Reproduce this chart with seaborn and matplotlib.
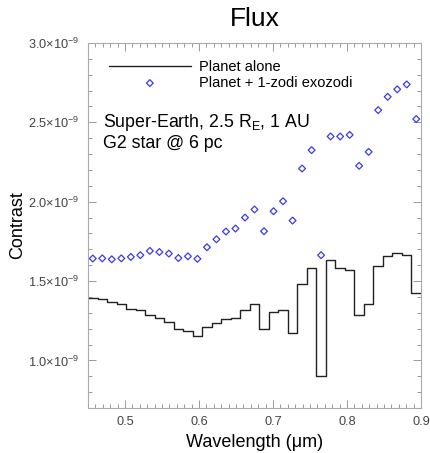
import numpy as np
import pandas as pd
import matplotlib
matplotlib.use("Agg")
import matplotlib.pyplot as plt
import matplotlib.ticker as mticker
import seaborn as sns

# wavelength grid: 35 equal bins between 0.45 and 0.90 um
wl_min, wl_max, n_bins = 0.45, 0.90, 35

# contrast values (units of 1e-9), one per bin
planet_alone = [1.395, 1.385, 1.368, 1.358, 1.322, 1.318, 1.288, 1.267, 1.242, 1.196,
                1.187, 1.156, 1.213, 1.235, 1.263, 1.267, 1.320, 1.353, 1.196, 1.307,
                1.315, 1.175, 1.484, 1.585, 0.901, 1.635, 1.582, 1.568, 1.288, 1.358,
                1.597, 1.658, 1.677, 1.667, 1.427]
planet_exozodi = [1.642, 1.643, 1.637, 1.643, 1.652, 1.663, 1.690, 1.683, 1.673, 1.645,
                  1.656, 1.640, 1.713, 1.763, 1.812, 1.831, 1.900, 1.951, 1.814, 1.940,
                  2.003, 1.881, 2.209, 2.325, 1.663, 2.411, 2.411, 2.421, 2.226, 2.314,
                  2.577, 2.661, 2.708, 2.739, 2.521]

x_ticks = [0.5, 0.6, 0.7, 0.8, 0.9]
y_ticks = [1.0, 1.5, 2.0, 2.5, 3.0]  # units of 1e-9

edges = np.linspace(wl_min, wl_max, n_bins + 1)
centers = 0.5 * (edges[:-1] + edges[1:])

step_df = pd.DataFrame({"wl": edges,
                        "c": np.append(planet_alone, planet_alone[-1]) * 1e-9})
pts_df = pd.DataFrame({"wl": centers, "c": np.array(planet_exozodi) * 1e-9})

sns.set_style("white")
plt.rcParams["font.family"] = ["Liberation Sans", "DejaVu Sans"]
plt.rcParams["mathtext.fontset"] = "custom"
plt.rcParams["mathtext.rm"] = "Liberation Sans"
plt.rcParams["mathtext.it"] = "Liberation Sans:italic"
plt.rcParams["mathtext.bf"] = "Liberation Sans:bold"
plt.rcParams["text.color"] = "black"
plt.rcParams["axes.labelcolor"] = "black"

fig = plt.figure(figsize=(4.31, 4.53), dpi=100)
ax = fig.add_axes([0.2042, 0.0993, 0.7726, 0.8058])

sns.lineplot(data=step_df, x="wl", y="c", drawstyle="steps-post", color="#222222",
             lw=1.0, ax=ax, label="Planet alone", sort=False)
sns.scatterplot(data=pts_df, x="wl", y="c", marker="D", s=12, facecolor="none",
                edgecolor="#3b3bea", linewidth=0.9, ax=ax,
                label="Planet + 1-zodi exozodi")

ax.set_xlim(0.45, 0.90)
ax.set_ylim(0.7e-9, 3.0e-9)
ax.set_xticks(x_ticks)
ax.set_xticklabels(["%.1f" % v for v in x_ticks])
ax.set_yticks(np.array(y_ticks) * 1e-9)
ax.set_yticklabels([r"$%.1f{\times}10^{-9}$" % v for v in y_ticks])
ax.xaxis.set_minor_locator(mticker.MultipleLocator(0.01))
ax.yaxis.set_minor_locator(mticker.MultipleLocator(0.1e-9))

for s in ax.spines.values():
    s.set_color("#aaaaaa")
    s.set_linewidth(0.8)
ax.tick_params(which="both", direction="in", bottom=True, left=True, top=True,
               right=True, color="#999999", labelcolor="#444444", labelsize=9.2,
               width=0.7)
ax.tick_params(which="major", length=6, pad=6)
ax.tick_params(which="minor", length=3)

ax.set_xlabel("Wavelength (\u03bcm)", fontsize=13, labelpad=4, color="black")
ax.set_ylabel("Contrast", fontsize=13, labelpad=2, color="black")
ax.set_title("Flux", fontsize=19, pad=12, color="black")

ax.legend(loc="upper left", bbox_to_anchor=(0.063, 0.953), frameon=False,
          fontsize=10.5, handlelength=5.6, handletextpad=0.6, labelspacing=0.12,
          borderpad=0, borderaxespad=0, labelcolor="black")

ax.text(0.045, 0.81, "Super-Earth, 2.5 R$_\\mathrm{E}$, 1 AU\nG2 star @ 6 pc",
        transform=ax.transAxes, fontsize=12.8, va="top", ha="left",
        linespacing=1.12, color="black")

fig.savefig("out.png", dpi=100)
